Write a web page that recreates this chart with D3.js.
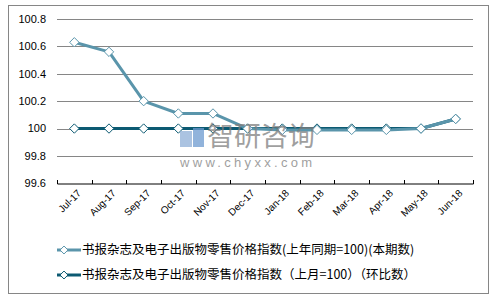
<!DOCTYPE html>
<html>
<head>
<meta charset="utf-8">
<script src="https://cdn.jsdelivr.net/npm/d3@7"></script>
<style>
  body { margin: 0; background: #fff; }
  text { font-family: "Liberation Sans", Arial, sans-serif; }
</style>
</head>
<body>
<div id="chart"></div>
<script>
const months = ["Jul-17", "Aug-17", "Sep-17", "Oct-17", "Nov-17", "Dec-17",
  "Jan-18", "Feb-18", "Mar-18", "Apr-18", "May-18", "Jun-18"];
const yoyValues = [100.63, 100.56, 100.2, 100.11, 100.11, 100.0,
  99.99, 99.99, 99.99, 99.99, 100.0, 100.07];
const momValues = [100, 100, 100, 100, 100, 100,
  100, 100, 100, 100, 100, 100.07];
const yTicks = [99.6, 99.8, 100, 100.2, 100.4, 100.6, 100.8];
const seriesNames = [
  "书报杂志及电子出版物零售价格指数(上年同期=100)(本期数)",
  "书报杂志及电子出版物零售价格指数（上月=100）（环比数）"
];

const width = 497, height = 300;
const margin = { top: 19, right: 24, bottom: 117, left: 57 };

const svg = d3.select("#chart").append("svg")
  .attr("width", width)
  .attr("height", height);

// outer frame
svg.append("rect")
  .attr("x", 8.5).attr("y", 5.5)
  .attr("width", 480).attr("height", 288)
  .attr("fill", "none")
  .attr("stroke", "#868686");

const x = d3.scaleBand()
  .domain(months)
  .range([margin.left, width - margin.right]);

const y = d3.scaleLinear()
  .domain([99.6, 100.8])
  .range([height - margin.bottom + 0.3, margin.top]);

const colors = ["#5a95ab", "#0c5a72"];
const allSeries = [yoyValues, momValues];

const line = d3.line()
  .x((d, i) => x(months[i]) + x.bandwidth() / 2)
  .y(d => y(d));

// gridlines
svg.append("g")
  .selectAll("line")
  .data(yTicks.slice(1))
  .join("line")
  .attr("x1", margin.left).attr("x2", width - margin.right)
  .attr("y1", d => Math.round(y(d)) + 0.5).attr("y2", d => Math.round(y(d)) + 0.5)
  .attr("stroke", "#868686");

// y labels
svg.append("g")
  .selectAll("text")
  .data(yTicks)
  .join("text")
  .attr("x", 46)
  .attr("y", d => y(d))
  .attr("dy", "0.35em")
  .attr("text-anchor", "end")
  .style("font-size", "11px")
  .attr("fill", "#000")
  .text(d => d === 100 ? "100" : d3.format(".1f")(d));

// x axis
const xAxis = svg.append("g")
  .attr("transform", `translate(0,${Math.round(y(99.6)) + 0.5})`)
  .call(d3.axisBottom(x).tickSize(0).tickSizeOuter(0).tickFormat(""));
xAxis.select(".domain").attr("stroke", "#000");

svg.append("g")
  .selectAll("line")
  .data(months.map(m => x(m)).concat([x(months[months.length - 1]) + x.bandwidth()]))
  .join("line")
  .attr("x1", d => Math.round(d) + 0.5).attr("x2", d => Math.round(d) + 0.5)
  .attr("y1", Math.round(y(99.6)) - 3).attr("y2", Math.round(y(99.6)) + 1)
  .attr("stroke", "#000");

svg.append("g")
  .selectAll("text")
  .data(months)
  .join("text")
  .attr("transform", d => `translate(${x(d) + x.bandwidth() / 2 + 5},${y(99.6) + 8}) rotate(-45)`)
  .attr("text-anchor", "end")
  .attr("dy", "0.35em")
  .style("font-size", "10px")
  .attr("fill", "#000")
  .text(d => d);

const diamond = d3.symbol().type(d3.symbolDiamond2).size(56);

[1, 0].forEach(s => {
  svg.append("path")
    .datum(allSeries[s])
    .attr("fill", "none")
    .attr("stroke", colors[s])
    .attr("stroke-width", 3)
    .attr("stroke-linejoin", "round")
    .attr("d", line);
});
[1, 0].forEach(s => {
  svg.append("g")
    .selectAll("path")
    .data(allSeries[s])
    .join("path")
    .attr("transform", (d, i) => `translate(${x(months[i]) + x.bandwidth() / 2},${y(d)})`)
    .attr("d", diamond)
    .attr("fill", "#fff")
    .attr("stroke", colors[s])
    .attr("stroke-width", 1);
});

// legend
const legend = svg.append("g");
seriesNames.forEach((name, i) => {
  const ly = 250 + i * 25;
  legend.append("line")
    .attr("x1", 57).attr("x2", 81)
    .attr("y1", ly).attr("y2", ly)
    .attr("stroke", colors[i])
    .attr("stroke-width", 3);
  legend.append("path")
    .attr("transform", `translate(64,${ly})`)
    .attr("d", d3.symbol().type(d3.symbolDiamond2).size(40))
    .attr("fill", "#fff")
    .attr("stroke", colors[i]);
  legend.append("text")
    .attr("x", 82).attr("y", ly)
    .attr("dy", "0.35em")
    .style("font-family", "'Noto Sans CJK SC', sans-serif")
    .style("font-size", "12.5px")
    .attr("fill", "#000")
    .text(name);
});

// watermark
const wm = svg.append("g").attr("opacity", 0.75);
wm.append("rect").attr("x", 180).attr("y", 131).attr("width", 12).attr("height", 16).attr("fill", "#8fb0d8");
wm.append("rect").attr("x", 193).attr("y", 128).attr("width", 11).attr("height", 19).attr("fill", "#6d9ad0");
wm.append("text")
  .attr("x", 207).attr("y", 146)
  .style("font-family", "'Noto Sans CJK SC', sans-serif")
  .style("font-size", "27px")
  .attr("fill", "#7f7f7f")
  .text("智研咨询");
wm.append("text")
  .attr("x", 180).attr("y", 167)
  .style("font-size", "13px")
  .style("letter-spacing", "3.3px")
  .attr("fill", "#808080")
  .text("www.chyxx.com");
</script>
</body>
</html>
